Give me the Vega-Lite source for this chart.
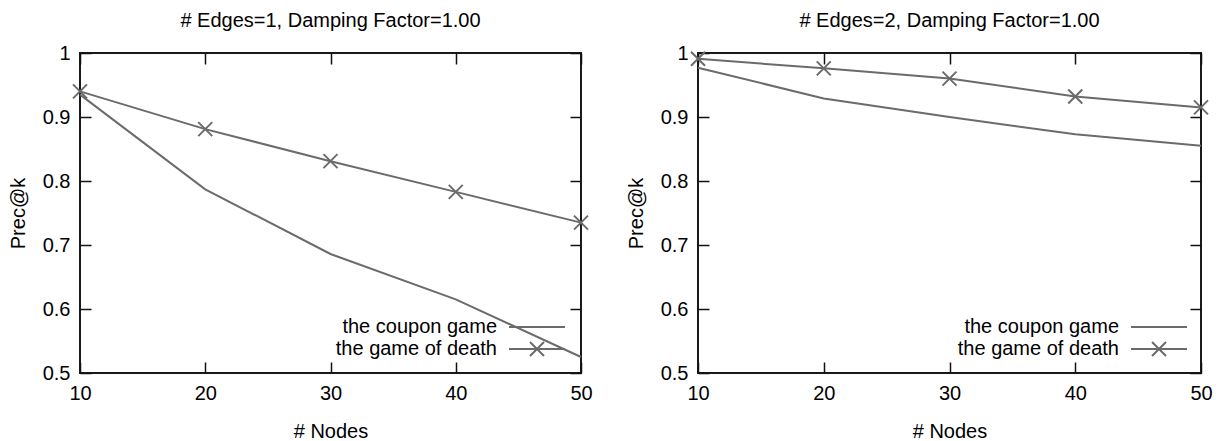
{
  "$schema": "https://vega.github.io/schema/vega-lite/v6.json",
  "padding": {"left": 7, "top": 10, "right": 0, "bottom": 0},
  "spacing": 31,
  "resolve": {"scale": {"color": "independent"}, "legend": {"color": "independent"}},
  "config": {
    "font": "Liberation Sans",
    "view": {"stroke": "#1a1a1a", "strokeWidth": 2},
    "axis": {
      "labelFontSize": 20, "titleFontSize": 20, "titleFontWeight": "normal",
      "labelColor": "#000", "titleColor": "#000", "tickColor": "#111",
      "tickWidth": 1.5, "tickSize": -11, "domain": false, "grid": false,
      "labelFlush": false, "labelOverlap": false,
      "labelFont": "Liberation Sans", "titleFont": "Liberation Sans"
    },
    "axisX": {"labelPadding": 21, "titlePadding": 18},
    "axisY": {"labelPadding": 21, "titlePadding": 14},
    "title": {"fontSize": 20, "fontWeight": "normal", "font": "Liberation Sans", "color": "#000", "baseline": "alphabetic", "offset": 12},
    "legend": {"labelFontSize": 20, "labelFont": "Liberation Sans", "labelColor": "#000", "labelLimit": 400}
  },
  "datasets": {
    "e1": [
      {"nodes": 10, "series": "the coupon game", "prec": 0.935},
      {"nodes": 20, "series": "the coupon game", "prec": 0.787},
      {"nodes": 30, "series": "the coupon game", "prec": 0.686},
      {"nodes": 40, "series": "the coupon game", "prec": 0.615},
      {"nodes": 50, "series": "the coupon game", "prec": 0.525},
      {"nodes": 10, "series": "the game of death", "prec": 0.940},
      {"nodes": 20, "series": "the game of death", "prec": 0.881},
      {"nodes": 30, "series": "the game of death", "prec": 0.831},
      {"nodes": 40, "series": "the game of death", "prec": 0.783},
      {"nodes": 50, "series": "the game of death", "prec": 0.735}
    ],
    "e2": [
      {"nodes": 10, "series": "the coupon game", "prec": 0.977},
      {"nodes": 20, "series": "the coupon game", "prec": 0.929},
      {"nodes": 30, "series": "the coupon game", "prec": 0.900},
      {"nodes": 40, "series": "the coupon game", "prec": 0.873},
      {"nodes": 50, "series": "the coupon game", "prec": 0.855},
      {"nodes": 10, "series": "the game of death", "prec": 0.991},
      {"nodes": 20, "series": "the game of death", "prec": 0.976},
      {"nodes": 30, "series": "the game of death", "prec": 0.960},
      {"nodes": 40, "series": "the game of death", "prec": 0.932},
      {"nodes": 50, "series": "the game of death", "prec": 0.915}
    ]
  },
  "hconcat": [
    {
      "width": 501, "height": 320,
      "title": {"text": "# Edges=1, Damping Factor=1.00"},
      "data": {"name": "e1"},
      "layer": [
        {
          "mark": {"type": "line", "strokeWidth": 2},
          "encoding": {
            "x": {"field": "nodes", "type": "quantitative", "scale": {"domain": [10, 50], "nice": false, "zero": false}, "axis": {"title": "# Nodes", "values": [10, 20, 30, 40, 50]}},
            "y": {"field": "prec", "type": "quantitative", "scale": {"domain": [0.5, 1], "nice": false, "zero": false}, "axis": {"title": "Prec@k", "values": [0.5, 0.6, 0.7, 0.8, 0.9, 1], "format": "~g"}},
            "color": {"field": "series", "type": "nominal", "scale": {"domain": ["the coupon game", "the game of death"], "range": ["#6b6b6b", "#6b6b6b"]},
              "legend": {"orient": "none", "legendX": 429, "legendY": 263, "title": null, "symbolSize": 400, "symbolOffset": 17, "symbolStrokeWidth": 2, "symbolStrokeColor": "#6b6b6b", "symbolType": "stroke", "labelAlign": "right", "labelOffset": -51, "rowPadding": 1, "padding": 0,
                "encode": {"symbols": {"update": {"shape": {"signal": "datum.value === 'the game of death' ? 'M-2.8,0L2.8,0M-0.7,-0.7L0.7,0.7M-0.7,0.7L0.7,-0.7' : 'M-2.8,0L2.8,0'"}, "stroke": {"value": "#6b6b6b"}, "strokeWidth": {"value": 2}}}}}}
          }
        },
        {
          "transform": [{"filter": "datum.series === 'the game of death'"}],
          "mark": {"type": "point", "shape": "M-1,-1L1,1M-1,1L1,-1", "size": 196, "strokeWidth": 2, "color": "#6b6b6b", "filled": false, "opacity": 1},
          "encoding": {
            "x": {"field": "nodes", "type": "quantitative", "axis": {"orient": "top", "labels": false, "title": null, "values": [10, 20, 30, 40, 50]}},
            "y": {"field": "prec", "type": "quantitative", "axis": {"orient": "right", "labels": false, "title": null, "values": [0.5, 0.6, 0.7, 0.8, 0.9, 1]}}
          }
        }
      ],
      "resolve": {"axis": {"x": "independent", "y": "independent"}}
    },
    {
      "width": 503, "height": 320,
      "title": {"text": "# Edges=2, Damping Factor=1.00"},
      "data": {"name": "e2"},
      "layer": [
        {
          "mark": {"type": "line", "strokeWidth": 2},
          "encoding": {
            "x": {"field": "nodes", "type": "quantitative", "scale": {"domain": [10, 50], "nice": false, "zero": false}, "axis": {"title": "# Nodes", "values": [10, 20, 30, 40, 50]}},
            "y": {"field": "prec", "type": "quantitative", "scale": {"domain": [0.5, 1], "nice": false, "zero": false}, "axis": {"title": "Prec@k", "values": [0.5, 0.6, 0.7, 0.8, 0.9, 1], "format": "~g"}},
            "color": {"field": "series", "type": "nominal", "scale": {"domain": ["the coupon game", "the game of death"], "range": ["#6b6b6b", "#6b6b6b"]},
              "legend": {"orient": "none", "legendX": 433, "legendY": 263, "title": null, "symbolSize": 400, "symbolOffset": 17, "symbolStrokeWidth": 2, "symbolStrokeColor": "#6b6b6b", "symbolType": "stroke", "labelAlign": "right", "labelOffset": -51, "rowPadding": 1, "padding": 0,
                "encode": {"symbols": {"update": {"shape": {"signal": "datum.value === 'the game of death' ? 'M-2.8,0L2.8,0M-0.7,-0.7L0.7,0.7M-0.7,0.7L0.7,-0.7' : 'M-2.8,0L2.8,0'"}, "stroke": {"value": "#6b6b6b"}, "strokeWidth": {"value": 2}}}}}}
          }
        },
        {
          "transform": [{"filter": "datum.series === 'the game of death'"}],
          "mark": {"type": "point", "shape": "M-1,-1L1,1M-1,1L1,-1", "size": 196, "strokeWidth": 2, "color": "#6b6b6b", "filled": false, "opacity": 1},
          "encoding": {
            "x": {"field": "nodes", "type": "quantitative", "axis": {"orient": "top", "labels": false, "title": null, "values": [10, 20, 30, 40, 50]}},
            "y": {"field": "prec", "type": "quantitative", "axis": {"orient": "right", "labels": false, "title": null, "values": [0.5, 0.6, 0.7, 0.8, 0.9, 1]}}
          }
        }
      ],
      "resolve": {"axis": {"x": "independent", "y": "independent"}}
    }
  ]
}
